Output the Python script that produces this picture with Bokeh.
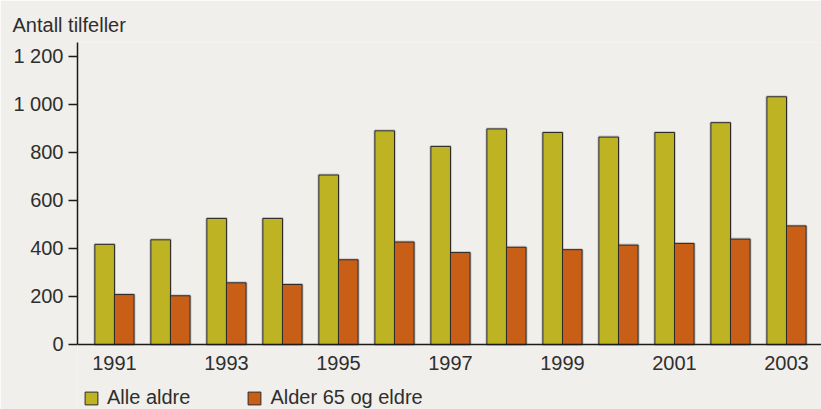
from bokeh.plotting import figure
from bokeh.models import Legend, LegendItem, FixedTicker, Range1d
from bokeh.embed import file_html
from bokeh.resources import INLINE

years = list(range(1991, 2004))
alle_aldre = [417, 436, 525, 525, 706, 890, 825, 898, 883, 864, 883, 924, 1032]
alder_65 = [208, 203, 257, 250, 353, 427, 383, 405, 395, 414, 421, 439, 494]
x_tick_labels = [1991, 1993, 1995, 1997, 1999, 2001, 2003]
y_ticks = [0, 200, 400, 600, 800, 1000, 1200]
y_tick_labels = ["0", "200", "400", "600", "800", "1 000", "1 200"]
series_names = ["Alle aldre", "Alder 65 og eldre"]
ylabel = "Antall tilfeller"

BG = "#f0efeb"
OLIVE = "#bdb323"
ORANGE = "#c95e17"
TXT = "#2e2e2e"
FONT = "Liberation Sans"
FS = "20px"

YTOP = 1258
YBOT = -270.8

p = figure(frame_width=744, frame_height=367, output_backend="svg", toolbar_location=None,
           x_range=Range1d(1990.34, 2003.625), y_range=Range1d(YBOT, YTOP),
           min_border_left=77, min_border_right=0, min_border_top=42, min_border_bottom=0,
           title=ylabel)
p.background_fill_color = BG
p.border_fill_color = BG
p.outline_line_color = None
p.grid.visible = False

p.title.align = "left"
p.title.offset = -65
p.title.text_font = FONT
p.title.text_font_size = FS
p.title.text_font_style = "normal"
p.title.text_color = TXT
p.title.standoff = 14

bw = 0.35
off = 0.175
xa = [y - off for y in years]
xb = [y + off for y in years]
# soft halo
p.vbar(x=xa, top=alle_aldre, width=bw, fill_color=None, line_color="#9a9a9a", line_width=3, line_alpha=0.45)
p.vbar(x=xb, top=alder_65, width=bw, fill_color=None, line_color="#9a9a9a", line_width=3, line_alpha=0.45)
r1 = p.vbar(x=xa, top=alle_aldre, width=bw, fill_color=OLIVE, line_color="#2a2a2a", line_width=1)
r2 = p.vbar(x=xb, top=alder_65, width=bw, fill_color=ORANGE, line_color="#2a2a2a", line_width=1)

# axes
p.xaxis.fixed_location = 0
p.xaxis.ticker = FixedTicker(ticks=x_tick_labels)
p.xaxis.major_tick_line_color = None
p.xaxis.major_tick_out = 0
p.xaxis.major_tick_in = 0
p.xaxis.minor_tick_line_color = None
p.xaxis.axis_line_color = "#1a1a1a"
p.xaxis.axis_line_width = 1.5
p.xaxis.major_label_text_font = FONT
p.xaxis.major_label_text_font_size = FS
p.xaxis.major_label_text_color = TXT
p.xaxis.major_label_standoff = 12

p.yaxis.bounds = (0, YTOP)
p.yaxis.ticker = FixedTicker(ticks=y_ticks)
p.yaxis.major_label_overrides = {t: l for t, l in zip(y_ticks, y_tick_labels)}
p.yaxis.major_tick_out = 9
p.yaxis.major_tick_in = 0
p.yaxis.minor_tick_line_color = None
p.yaxis.major_tick_line_color = "#1a1a1a"
p.yaxis.major_tick_line_width = 1.5
p.yaxis.axis_line_color = "#1a1a1a"
p.yaxis.axis_line_width = 1.5
p.yaxis.major_label_text_font = FONT
p.yaxis.major_label_text_font_size = FS
p.yaxis.major_label_text_color = TXT
p.yaxis.major_label_standoff = 5

legend = Legend(items=[LegendItem(label=series_names[0], renderers=[r1]),
                       LegendItem(label=series_names[1], renderers=[r2])],
                orientation="horizontal", location=(6, 0),
                glyph_width=16, glyph_height=16, label_standoff=8, spacing=56,
                padding=0, margin=0, border_line_color=None, background_fill_alpha=0,
                label_text_font=FONT, label_text_font_size=FS, label_text_color=TXT)
p.add_layout(legend, "center")

open("out.html", "w").write(file_html(p, INLINE))
